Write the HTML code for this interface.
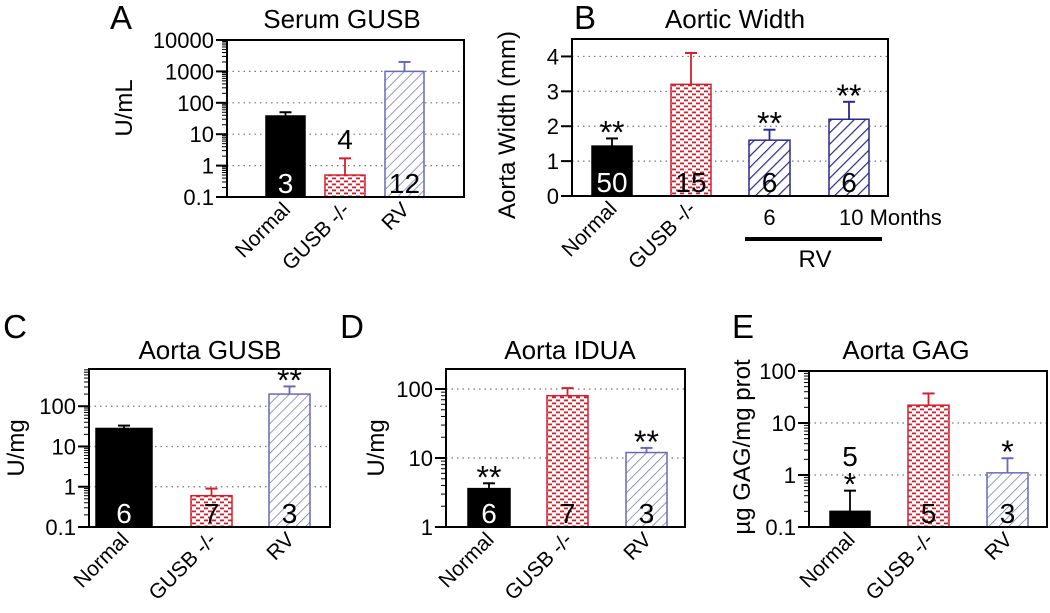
<!DOCTYPE html>
<html><head><meta charset="utf-8"><style>
html,body{margin:0;padding:0;background:#fff;}
svg{display:block;font-family:"Liberation Sans",Arial,sans-serif;}
</style></head><body>
<svg id="fig" width="1050" height="613" viewBox="0 0 1050 613">
<defs>
<pattern id="redDots" width="8" height="6" patternUnits="userSpaceOnUse">
<rect width="8" height="6" fill="#fff"/>
<rect x="0" y="0.5" width="4" height="1.8" fill="#d02030"/>
<rect x="4" y="3.5" width="4" height="1.8" fill="#d02030"/>
</pattern>
<pattern id="blueHatch" width="7" height="7" patternUnits="userSpaceOnUse" patternTransform="rotate(45)">
<rect width="7" height="7" fill="#fff"/>
<line x1="0" y1="0" x2="0" y2="7" stroke="#6a6ab4" stroke-width="1.4"/>
</pattern>
<pattern id="blueHatchDark" width="8" height="8" patternUnits="userSpaceOnUse" patternTransform="rotate(45)">
<rect width="8" height="8" fill="#fff"/>
<line x1="0" y1="0" x2="0" y2="8" stroke="#2a2a8a" stroke-width="2.4"/>
</pattern>
</defs>
</svg>
<script>
const NS='http://www.w3.org/2000/svg';
const svg=document.getElementById('fig');

// Panel A data
const aCategories=['Normal','GUSB -/-','RV'];
const aValues=[38,0.5,1000];
const aErrors=[50,1.7,2000];
const aCounts=['3','4','12'];
const aTicks=[0.1,1,10,100,1000,10000];
const aTickLabels=['0.1','1','10','100','1000','10000'];
// Panel B data
const bCategories=['Normal','GUSB -/-','6','10 Months'];
const bValues=[1.43,3.2,1.6,2.2];
const bErrors=[1.65,4.1,1.9,2.7];
const bCounts=['50','15','6','6'];
const bStars=['**','','**','**'];
const bTicks=[0,1,2,3,4];
const bTickLabels=['0','1','2','3','4'];
// Panel C data
const cCategories=['Normal','GUSB -/-','RV'];
const cValues=[28,0.6,200];
const cErrors=[33,0.9,310];
const cCounts=['6','7','3'];
const cStars=['','','**'];
const cTicks=[0.1,1,10,100];
const cTickLabels=['0.1','1','10','100'];
// Panel D data
const dCategories=['Normal','GUSB -/-','RV'];
const dValues=[3.6,80,12];
const dErrors=[4.3,103,14];
const dCounts=['6','7','3'];
const dStars=['**','','**'];
const dTicks=[1,10,100];
const dTickLabels=['1','10','100'];
// Panel E data
const eCategories=['Normal','GUSB -/-','RV'];
const eValues=[0.2,22,1.1];
const eErrors=[0.5,37,2.1];
const eCounts=['5','5','3'];
const eStars=['*','','*'];
const eTicks=[0.1,1,10,100];
const eTickLabels=['0.1','1','10','100'];

function el(tag,attrs,parent){const e=document.createElementNS(NS,tag);for(const k in attrs)e.setAttribute(k,attrs[k]);(parent||svg).appendChild(e);return e;}
function txt(s,attrs,parent){const t=el('text',attrs,parent);t.textContent=s;return t;}

function panel(p){
  const g=el('g',{});
  
  
  const logMin=Math.log10(p.min), logMax=Math.log10(p.max);
  const y=v=>p.log? p.y1-(Math.log10(v)-logMin)/(logMax-logMin)*(p.y1-p.y0) : p.y1-(v-p.min)/(p.max-p.min)*(p.y1-p.y0);
  p.ticks.forEach((t,i)=>{
    const yy=y(t);
    if(t!==p.min){const gl=el('line',{x1:p.x0,x2:p.x1,y1:yy,y2:yy,stroke:'#777','stroke-width':1.2,'stroke-dasharray':'1.5,4'},g);
      }
    el('line',{x1:p.x0-11,x2:p.x0,y1:yy,y2:yy,stroke:'#000','stroke-width':2},g);
    const tl=txt(p.tickLabels[i],{x:p.x0-13,y:yy+8,'font-size':22,'text-anchor':'end'},g);
    
  });
  if(p.log){
    for(let d=Math.floor(logMin);d<Math.ceil(logMax);d++)for(let m=2;m<10;m++){const v=m*Math.pow(10,d);if(v>p.min&&v<p.max){const yy=y(v);el('line',{x1:p.x0-5,x2:p.x0,y1:yy,y2:yy,stroke:'#000','stroke-width':1},g);}}
  }
  p.values.forEach((v,i)=>{
    const bx=p.bars[i][0],bw=p.bars[i][1]-p.bars[i][0];
    const top=y(v), bot=p.y1;
    const col=p.colors[i];
    const r=el('rect',{x:bx,y:top,width:bw,height:bot-top,fill:p.fills[i],stroke:col,'stroke-width':1.5},g);
    
    
    const cx=bx+bw/2, ey=y(p.errors[i]);
    el('line',{x1:cx,x2:cx,y1:top,y2:ey,stroke:col,'stroke-width':1.8},g);
    el('line',{x1:cx-6,x2:cx+6,y1:ey,y2:ey,stroke:col,'stroke-width':2},g);
    let cy=p.countY?p.countY[i]:p.y1-4;
    const ct=txt(p.counts[i],{x:cx,y:cy,'font-size':28,'text-anchor':'middle',fill:(i===0&&!p.countY)||(i===0&&p.whiteFirst)?'#fff':'#000'},g);
    
    if(p.stars&&p.stars[i]){const st=txt(p.stars[i],{x:cx,y:ey+5,'font-size':32,'text-anchor':'middle'},g);
      }
    if(!(p.plainCats&&p.plainCats[i])){
      const lx=cx+6, ly=p.y1+14;
      const cl=txt(p.cats[i],{x:lx,y:ly,'font-size':21,'text-anchor':'end',transform:`rotate(-45 ${lx} ${ly})`},g);
      
    }else{
      const long=p.cats[i].length>2;
      const cl=txt(p.cats[i],{x:long?cx-10:cx,y:p.y1+29,'font-size':22,'text-anchor':long?'start':'middle'},g);
      
    }
  });
  const fr=el('rect',{x:p.x0,y:p.y0,width:p.x1-p.x0,height:p.y1-p.y0,fill:'none',stroke:'#000','stroke-width':2},g);
  
  const ti=txt(p.title,{x:p.titleX,y:p.titleY,'font-size':26,'text-anchor':'middle'},g);
  
  const le=txt(p.letter,{x:p.letterX,y:p.letterY,'font-size':33,'text-anchor':'middle'},g);
  
  const yl=txt(p.ylabel,{x:p.ylX,y:p.ylY,'font-size':p.ylSize||24,'text-anchor':'middle',transform:`rotate(-90 ${p.ylX} ${p.ylY})`},g);
  
  return g;
}
const R='#d02030',B='#6a6ab4',BD='#2a2a8a';
panel({name:'panel-a-serum-gusb',log:true,min:0.1,max:10000,x0:227,x1:464,y0:40,y1:197,ticks:aTicks,tickLabels:aTickLabels,
  values:aValues,errors:aErrors,counts:aCounts,cats:aCategories,bars:[[266,305],[325,365],[385,424]],
  colors:['#000',R,B],fills:['#000','url(#redDots)','url(#blueHatch)'],countY:[193,149,193],whiteFirst:true,
  title:'Serum GUSB',titleX:342,titleY:28,letter:'A',letterX:121,letterY:29,ylabel:'U/mL',ylX:132,ylY:108});
panel({name:'panel-b-aortic-width',log:false,min:0,max:4.5,x0:572,x1:888,y0:39,y1:196,ticks:bTicks,tickLabels:bTickLabels,
  values:bValues,errors:bErrors,counts:bCounts,stars:bStars,cats:bCategories,bars:[[592,632],[671,711],[749,790],[829,869]],
  colors:['#000',R,BD,BD],fills:['#000','url(#redDots)','url(#blueHatchDark)','url(#blueHatchDark)'],plainCats:[false,false,true,true],
  title:'Aortic Width',titleX:735,titleY:28,letter:'B',letterX:585,letterY:29,ylabel:'Aorta Width (mm)',ylX:515,ylY:125});
panel({name:'panel-c-aorta-gusb',log:true,min:0.1,max:840,x0:89,x1:330,y0:369,y1:527,ticks:cTicks,tickLabels:cTickLabels,
  values:cValues,errors:cErrors,counts:cCounts,stars:cStars,cats:cCategories,bars:[[96,152],[191,232],[269,310]],
  colors:['#000',R,B],fills:['#000','url(#redDots)','url(#blueHatch)'],
  title:'Aorta GUSB',titleX:210,titleY:359,letter:'C',letterX:15,letterY:338,ylabel:'U/mg',ylX:24,ylY:448});
panel({name:'panel-d-aorta-idua',log:true,min:1,max:195,x0:446,x1:685,y0:369,y1:527,ticks:dTicks,tickLabels:dTickLabels,
  values:dValues,errors:dErrors,counts:dCounts,stars:dStars,cats:dCategories,bars:[[468,510],[547,588],[626,667]],
  colors:['#000',R,B],fills:['#000','url(#redDots)','url(#blueHatch)'],
  title:'Aorta IDUA',titleX:570,titleY:359,letter:'D',letterX:352,letterY:338,ylabel:'U/mg',ylX:384,ylY:448});
panel({name:'panel-e-aorta-gag',log:true,min:0.1,max:100,x0:809,x1:1047,y0:371,y1:527,ticks:eTicks,tickLabels:eTickLabels,
  values:eValues,errors:eErrors,counts:eCounts,stars:eStars,cats:eCategories,bars:[[830,870],[908,949],[987,1028]],
  colors:['#000',R,B],fills:['#000','url(#redDots)','url(#blueHatch)'],countY:[466,523,523],
  title:'Aorta GAG',titleX:906,titleY:359,letter:'E',letterX:743,letterY:338,ylabel:'µg GAG/mg prot',ylX:750,ylY:447});
const br=el('line',{x1:745,x2:882,y1:239,y2:239,stroke:'#000','stroke-width':4});


const rv=txt('RV',{x:815,y:267,'font-size':24,'text-anchor':'middle'});


</script>
</body></html>
